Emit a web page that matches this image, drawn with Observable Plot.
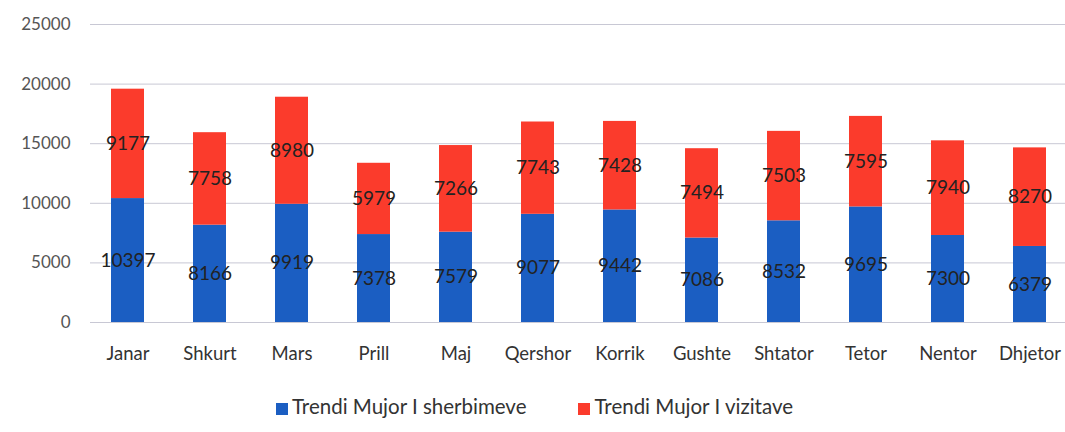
<!DOCTYPE html>
<html>
<head>
<meta charset="utf-8">
<script src="https://cdn.jsdelivr.net/npm/d3@7"></script>
<script src="https://cdn.jsdelivr.net/npm/@observablehq/plot@0.6"></script>
<style>
  body { margin: 0; background: #fff; font-family: Lato, "Open Sans", sans-serif; }
  #chart { width: 1065px; }
  .legend { display: flex; gap: 52px; margin-left: 276px; margin-top: 14px; font-size: 20.5px; color: #333; }
  .legend span.sw { display: inline-block; width: 12px; height: 12px; margin-right: 4px; vertical-align: -1px; }
</style>
</head>
<body>
<div id="chart"></div>
<script>
const months = ["Janar","Shkurt","Mars","Prill","Maj","Qershor","Korrik","Gushte","Shtator","Tetor","Nentor","Dhjetor"];
const sherbimeve = [10397, 8166, 9919, 7378, 7579, 9077, 9442, 7086, 8532, 9695, 7300, 6379];
const vizitave = [9177, 7758, 8980, 5979, 7266, 7743, 7428, 7494, 7503, 7595, 7940, 8270];
const seriesNames = ["Trendi Mujor I sherbimeve", "Trendi Mujor I vizitave"];
const colors = ["#1b5ec2", "#fb3b2c"];
const yTicks = [0, 5000, 10000, 15000, 20000, 25000];

const rows = [];
months.forEach((m, i) => {
  rows.push({month: m, series: seriesNames[0], value: sherbimeve[i]});
  rows.push({month: m, series: seriesNames[1], value: vizitave[i]});
});

const chart = Plot.plot({
  width: 1065,
  height: 380,
  marginLeft: 101,
  marginRight: 10,
  marginTop: 24,
  marginBottom: 58,
  style: {fontFamily: "Lato, 'Open Sans', sans-serif", fontSize: "17px", color: "#444"},
  x: {domain: months, paddingInner: 0.6, paddingOuter: 0.1, label: null},
  y: {domain: [0, 25000], ticks: yTicks, label: null},
  color: {domain: seriesNames, range: colors},
  marks: [
    Plot.ruleY(yTicks, {stroke: "#c8c8d4", insetLeft: -11, insetRight: -12}),
    Plot.axisY({ticks: yTicks, tickSize: 0, tickPadding: 31, tickFormat: d => String(d), fontSize: 17, fill: "#555"}),
    Plot.axisX({tickSize: 0, tickPadding: 24, fontSize: 18.5, fill: "#333"}),
    Plot.barY(rows, Plot.stackY({x: "month", y: "value", fill: "series", order: seriesNames})),
    Plot.text(rows, Plot.stackY({x: "month", y: "value", z: "series", order: seriesNames, text: d => String(d.value), fontSize: 19, fill: "#222"}))
  ]
});
document.getElementById("chart").appendChild(chart);

const legend = document.createElement("div");
legend.className = "legend";
seriesNames.forEach((s, i) => {
  const item = document.createElement("div");
  const sw = document.createElement("span");
  sw.className = "sw";
  sw.style.background = colors[i];
  item.appendChild(sw);
  item.appendChild(document.createTextNode(s));
  legend.appendChild(item);
});
document.getElementById("chart").appendChild(legend);
</script>
</body>
</html>
